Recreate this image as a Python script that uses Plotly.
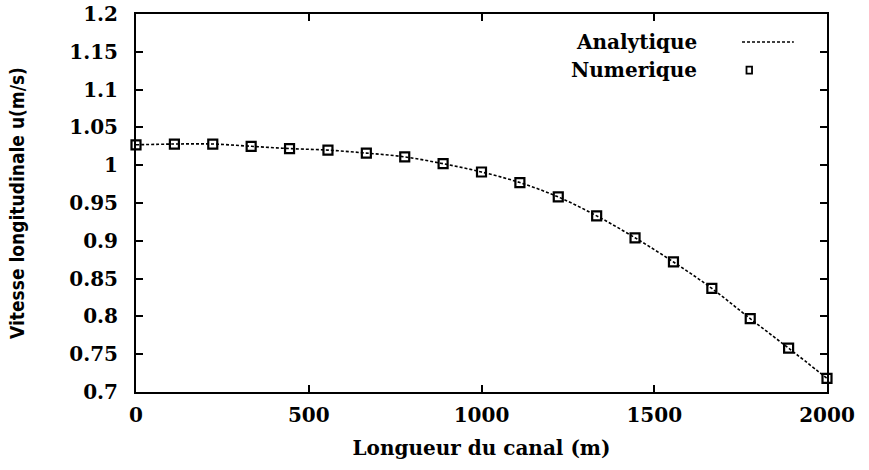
import plotly.graph_objects as go

# Longitudinal velocity along the channel
longueur = [0, 111.1, 222.2, 333.3, 444.4, 555.6, 666.7, 777.8, 888.9, 1000,
            1111.1, 1222.2, 1333.3, 1444.4, 1555.6, 1666.7, 1777.8, 1888.9, 2000]
vitesse_analytique = [1.027, 1.028, 1.028, 1.025, 1.022, 1.020, 1.016, 1.011, 1.002, 0.991,
                      0.977, 0.958, 0.933, 0.904, 0.872, 0.837, 0.797, 0.758, 0.718]
vitesse_numerique = [1.027, 1.028, 1.028, 1.025, 1.022, 1.020, 1.016, 1.011, 1.002, 0.991,
                     0.977, 0.958, 0.933, 0.904, 0.872, 0.837, 0.797, 0.758, 0.718]

x_ticks = [0, 500, 1000, 1500, 2000]
y_ticks = [0.7, 0.75, 0.8, 0.85, 0.9, 0.95, 1.0, 1.05, 1.1, 1.15, 1.2]
y_ticklabels = ["0.7", "0.75", "0.8", "0.85", "0.9", "0.95", "1", "1.05", "1.1", "1.15", "1.2"]

SERIF = "DejaVu Serif, Liberation Serif, serif"
NARROW = "Liberation Sans Narrow, DejaVu Sans Condensed, Liberation Sans, sans-serif"

fig = go.Figure()
fig.add_trace(go.Scatter(
    x=longueur, y=vitesse_analytique, mode="lines", name="Analytique",
    line=dict(color="black", width=1.6, dash="3px,2px", shape="spline"),
    showlegend=False, cliponaxis=False,
))
fig.add_trace(go.Scatter(
    x=longueur, y=vitesse_numerique, mode="markers", name="Numerique",
    marker=dict(symbol="square-open", size=9, color="black", line=dict(width=2.2, color="black")),
    showlegend=False, cliponaxis=False,
))

axis_common = dict(
    showgrid=False, zeroline=False, showline=True, linecolor="black", linewidth=2,
    mirror="allticks", ticks="inside", ticklen=7, tickwidth=1.5, tickcolor="black",
    automargin=False,
)

fig.update_layout(
    width=869, height=470,
    margin=dict(l=136, r=42, t=14, b=78),
    paper_bgcolor="white", plot_bgcolor="white",
    font=dict(family=SERIF, color="black"),
    xaxis=dict(
        range=[0, 2000], tickvals=x_ticks, ticktext=[str(v) for v in x_ticks],
        tickfont=dict(family=SERIF, size=20, color="black", weight="bold"),
        ticklabelstandoff=4,
        title=dict(text="Longueur du canal (m)", standoff=15,
                   font=dict(family=SERIF, size=20, color="black", weight="bold")),
        **axis_common,
    ),
    yaxis=dict(
        range=[0.7, 1.2], tickvals=y_ticks, ticktext=y_ticklabels,
        tickfont=dict(family=SERIF, size=20, color="black", weight="bold"),
        ticklabelstandoff=12,
        title=dict(text="Vitesse longitudinale u(m/s)", standoff=40,
                   font=dict(family=NARROW, size=19, color="black", weight="bold")),
        **axis_common,
    ),
)

# Legend: labels on the left, keys on the right
fig.add_annotation(xref="paper", yref="paper", x=0.815, y=0.926, xanchor="right", yanchor="middle",
                   text="<b>Analytique</b>", showarrow=False,
                   font=dict(family=SERIF, size=20, color="black"))
fig.add_annotation(xref="paper", yref="paper", x=0.815, y=0.852, xanchor="right", yanchor="middle",
                   text="<b>Numerique</b>", showarrow=False,
                   font=dict(family=SERIF, size=20, color="black"))
fig.add_shape(type="line", xref="paper", yref="paper", x0=0.877, x1=0.952, y0=0.926, y1=0.926,
              line=dict(color="black", width=1.6, dash="3px,2px"))
fig.add_shape(type="rect", xref="paper", yref="paper", x0=0.8835, x1=0.8915, y0=0.842, y1=0.861,
              line=dict(color="black", width=1.8))

fig.write_html("out.html")
